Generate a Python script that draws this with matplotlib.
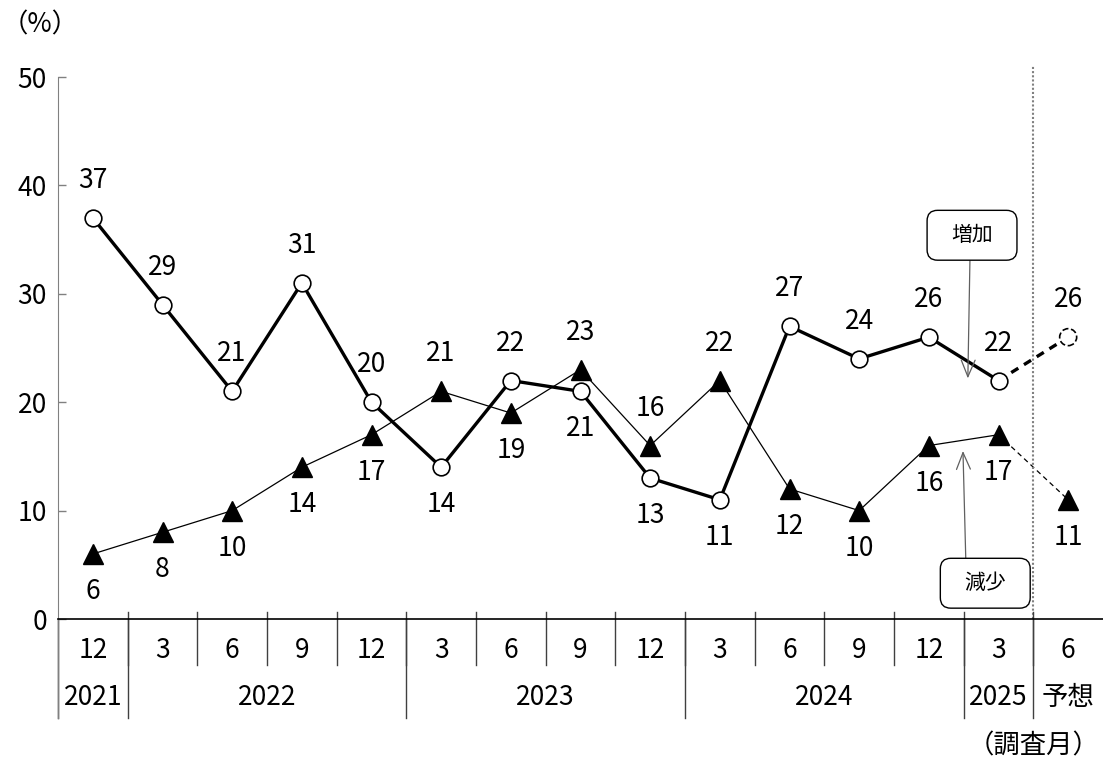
import numpy as np
import matplotlib.pyplot as plt
from matplotlib.patches import FancyBboxPatch

plt.rcParams['font.family'] = ['Noto Sans CJK JP', 'DejaVu Sans']

months = ['12', '3', '6', '9', '12', '3', '6', '9', '12', '3', '6', '9', '12', '3', '6']
years = ['2021', '2022', '2023', '2024', '2025', '予想']
year_spans = [(0, 1), (1, 5), (5, 9), (9, 13), (13, 14), (14, 15)]

increase = [37, 29, 21, 31, 20, 14, 22, 21, 13, 11, 27, 24, 26, 22, 26]
decrease = [6, 8, 10, 14, 17, 21, 19, 23, 16, 22, 12, 10, 16, 17, 11]
# label above (+1) or below (-1) the point
inc_side = [1, 1, 1, 1, 1, -1, 1, -1, -1, -1, 1, 1, 1, 1, 1]
dec_side = [-1, -1, -1, -1, -1, 1, -1, 1, 1, 1, -1, -1, -1, -1, -1]

FS = 19
fig = plt.figure(figsize=(11.03, 7.64), dpi=100)
ax = fig.add_axes([58 / 1103, (764 - 619) / 764, 1 - 58 / 1103, (619 - 77) / 764])

x = np.arange(len(months)) + 0.5
n = len(months) - 1

# 減少 (triangles, thin line)
ax.plot(x[:n], decrease[:n], color='black', lw=0.9, zorder=2)
ax.plot(x[n - 1:], decrease[n - 1:], color='black', lw=0.9, ls=(0, (4, 3)), zorder=2)
ax.plot(x, decrease, ls='none', marker='^', ms=15, color='black', zorder=4)

# 増加 (circles, thick line)
ax.plot(x[:n], increase[:n], color='black', lw=2.4, zorder=3)
ax.plot(x[n - 1:], increase[n - 1:], color='black', lw=2.4, ls=(0, (2.5, 2)), zorder=3)
ax.plot(x[:n], increase[:n], ls='none', marker='o', ms=12, mfc='white', mec='black',
        mew=1.2, zorder=5)
ax.scatter(x[n:], increase[n:], s=150, facecolor='white', edgecolor='black',
           linewidths=1.2, linestyles='--', zorder=5)

for xi, v, s in zip(x, increase, inc_side):
    ax.annotate(str(v), (xi, v), xytext=(0, 27 * s), textcoords='offset points',
                ha='center', va='center', fontsize=FS)
for xi, v, s in zip(x, decrease, dec_side):
    ax.annotate(str(v), (xi, v), xytext=(0, 27 * s), textcoords='offset points',
                ha='center', va='center', fontsize=FS)

ax.set_xlim(0, 15)
ax.set_ylim(0, 50)
ax.set_yticks(range(0, 51, 10))
ax.set_xticks([])
ax.tick_params(axis='y', direction='in', length=6, width=1, color='#808080',
               labelsize=FS, pad=8)
for side in ['top', 'right']:
    ax.spines[side].set_visible(False)
ax.spines['left'].set_color('#808080')
ax.spines['bottom'].set_color('black')
ax.spines['bottom'].set_linewidth(1.2)

# forecast divider
ax.plot([14, 14], [0, 51.1], color='#808080', lw=1.5, ls=(0, (1, 1)), clip_on=False)

# category axis below
sep_col = '#404040'
for i in range(1, 15):
    ax.plot([i, i], [0.65, -4.2], color=sep_col, lw=1, clip_on=False)
for a, b in year_spans:
    ax.plot([a, a], [0, -9.1], color=sep_col, lw=1, clip_on=False)
ax.plot([0, 0], [0, -9.1], color='#808080', lw=1, clip_on=False)
for xi, m in zip(x, months):
    ax.text(xi, -2.9, m, ha='center', va='center', fontsize=FS, clip_on=False)
for (a, b), yl in zip(year_spans, years):
    ax.text((a + b) / 2, -7.2, yl, ha='center', va='center', fontsize=FS, clip_on=False)

# callout boxes
asp = (50 / 542) / (15 / 1045)
for cx, cy, label in [(13.12, 35.4, '増加'), (13.31, 3.3, '減少')]:
    w, h = 1.29, 4.6
    box = FancyBboxPatch((cx - w / 2, cy - h / 2), w, h,
                         boxstyle='round,pad=0,rounding_size=0.15',
                         mutation_aspect=asp, fc='white', ec='black', lw=1,
                         zorder=6, clip_on=False)
    ax.add_patch(box)
    ax.text(cx, cy, label, ha='center', va='center', fontsize=15, zorder=7)

arrow = dict(arrowstyle='->,head_length=1.2,head_width=0.5', color='#606060', lw=0.9,
             shrinkA=0, shrinkB=0)
ax.annotate('', xy=(13.06, 22.2), xytext=(13.09, 33.1), arrowprops=arrow)
ax.annotate('', xy=(12.99, 15.5), xytext=(13.03, 5.6), arrowprops=arrow)

fig.text(2 / 1103, 1 - 25 / 764, '（%）', ha='left', va='center', fontsize=FS)
fig.text(1100 / 1103, 1 - 746 / 764, '（調査月）', ha='right', va='center', fontsize=FS)

fig.savefig('out.png', dpi=100)
